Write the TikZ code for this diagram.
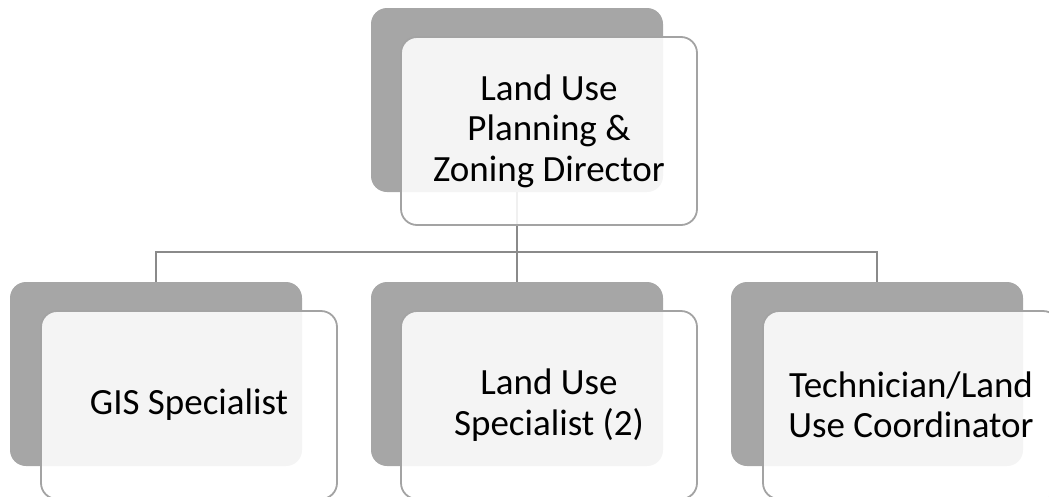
\documentclass[tikz,border=0pt]{standalone}
\usepackage{fontspec}
\setmainfont{Carlito}
\definecolor{shadegray}{HTML}{A6A6A6}
\definecolor{edgegray}{HTML}{A3A3A3}
\definecolor{linkgray}{HTML}{8A8A8A}
\begin{document}
\begin{tikzpicture}[x=1pt,y=-1pt,
  backcard/.style={rectangle, rounded corners=16pt, fill=shadegray, draw=none,
    minimum width=292pt, minimum height=184pt, inner sep=0pt},
  frontcard/.style={rectangle, rounded corners=16pt, fill=white, fill opacity=0.88,
    text opacity=1, draw=edgegray, draw opacity=1, line width=1.8pt,
    minimum width=296pt, minimum height=188pt, inner sep=0pt, align=center,
    font=\fontsize{37}{40.5}\selectfont},
  link/.style={draw=linkgray, line width=2pt}]
\useasboundingbox (0,0) rectangle (1049,496);
% shadow cards
\node[backcard] (back0) at (517,100) {};
\node[backcard] (back1) at (156,374) {};
\node[backcard] (back2) at (517,374) {};
\node[backcard] (back3) at (877,374) {};
% connectors, drawn before the front cards so these cover them
\coordinate (bus) at (517,252);
\draw[link] (back0.south) -- (bus);
\draw[link] (back1.north) |- (bus) -| (back3.north);
\draw[link] (bus) -- (back2.north);
% front cards with labels
\node[frontcard] (top) at (549,131) {Land Use\\Planning \&\\Zoning Director};
\node[frontcard] (gis) at (189,405) {GIS Specialist};
\node[frontcard] (lus) at (549,405) {Land Use\\Specialist (2)};
\node[frontcard] (tech) at (911,405) {Technician/Land\\Use Coordinator};
\end{tikzpicture}
\end{document}
